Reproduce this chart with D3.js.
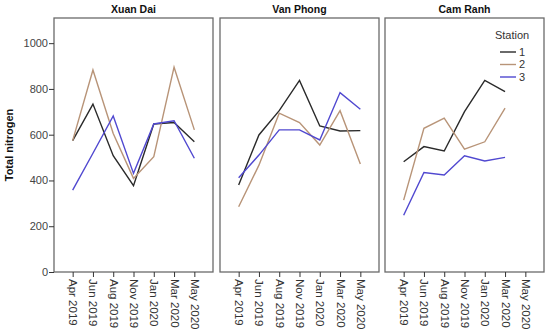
<!DOCTYPE html>
<html>
<head>
<meta charset="utf-8">
<script src="https://cdn.jsdelivr.net/npm/d3@7"></script>
<style>
  body { margin: 0; background: #fff; }
  text { font-family: "Liberation Sans", Arial, sans-serif; }
</style>
</head>
<body>
<svg id="chart" width="550" height="331"></svg>
<script>
// Kategorier og data
const months = ["Apr 2019", "Jun 2019", "Aug 2019", "Nov 2019", "Jan 2020", "Mar 2020", "May 2020"];
const sites = ["Xuan Dai", "Van Phong", "Cam Ranh"];
const stations = ["1", "2", "3"];
const yTicks = [0, 200, 400, 600, 800, 1000];

// værdier pr. station (én række pr. site)
const station1 = [
  [574, 734, 508, 377, 647, 653, 569],
  [380, 599, 705, 837, 638, 616, 618],
  [482, 548, 529, 701, 837, 788, null]
];
const station2 = [
  [574, 883, 605, 409, 504, 895, 621],
  [285, 467, 694, 653, 555, 705, 472],
  [314, 628, 672, 537, 569, 716, null]
];
const station3 = [
  [358, 519, 682, 431, 647, 661, 497],
  [412, 511, 621, 621, 577, 784, 711],
  [248, 435, 424, 508, 485, 501, null]
];
const seriesData = [station1, station2, station3];
const colors = ["#2a2a2a", "#b89478", "#5048d0"];

const svg = d3.select("#chart");

// Panel-placeringer
const panelX = [54, 220, 385];
const panelW = 159;
const plotTop = 18, plotBottom = 272;

const y = d3.scaleLinear().domain([0, 1110]).range([plotBottom, plotTop]);

sites.forEach((site, i) => {
  const x = d3.scalePoint().domain(months).range([0, panelW]).padding(0.92);
  const g = svg.append("g").attr("transform", `translate(${panelX[i]},0)`);

  // ramme
  g.append("rect")
    .attr("x", 0).attr("y", plotTop)
    .attr("width", panelW).attr("height", plotBottom - plotTop)
    .attr("fill", "none").attr("stroke", "#6a6a6a").attr("stroke-width", 1.3);

  // titel
  g.append("text")
    .attr("x", panelW / 2).attr("y", 13)
    .attr("text-anchor", "middle")
    .attr("font-size", 10.5).attr("font-weight", "bold")
    .attr("fill", "#111")
    .text(site);

  // x-akse
  const xAxis = g.append("g")
    .attr("transform", `translate(0,${plotBottom})`)
    .call(d3.axisBottom(x).tickSize(5).tickPadding(3));
  xAxis.select(".domain").remove();
  xAxis.selectAll("line").attr("stroke", "#333");
  xAxis.selectAll("text")
    .attr("font-size", 11.5).attr("fill", "#333")
    .attr("transform", "rotate(90)")
    .attr("text-anchor", "start")
    .attr("x", 7).attr("y", 0).attr("dy", "0.35em");

  // y-akse kun på første panel
  if (i === 0) {
    const yAxis = g.append("g")
      .call(d3.axisLeft(y).tickValues(yTicks).tickFormat(d3.format("d")).tickSize(5).tickPadding(1));
    yAxis.select(".domain").remove();
    yAxis.selectAll("line").attr("stroke", "#333");
    yAxis.selectAll("text").attr("font-size", 11).attr("fill", "#444");
  }

  // linjer
  const line = d3.line()
    .defined(d => d.v != null)
    .x(d => x(d.m))
    .y(d => y(d.v));

  seriesData.forEach((s, k) => {
    const pts = months.map((m, j) => ({ m: m, v: s[i][j] }));
    g.append("path")
      .datum(pts)
      .attr("d", line)
      .attr("fill", "none")
      .attr("stroke", colors[k])
      .attr("stroke-width", 1.4);
  });
});

// y-akse titel
svg.append("text")
  .attr("transform", "translate(13,145) rotate(-90)")
  .attr("text-anchor", "middle")
  .attr("font-size", 11).attr("font-weight", "bold")
  .attr("fill", "#111")
  .text("Total nitrogen");

// legende
const legend = svg.append("g").attr("transform", "translate(500,0)");
legend.append("text")
  .attr("x", 12).attr("y", 39)
  .attr("text-anchor", "middle")
  .attr("font-size", 11).attr("fill", "#333")
  .text("Station");
stations.forEach((s, k) => {
  const yy = 52 + k * 12.5;
  legend.append("line")
    .attr("x1", 0).attr("x2", 16)
    .attr("y1", yy).attr("y2", yy)
    .attr("stroke", colors[k]).attr("stroke-width", 1.4);
  legend.append("text")
    .attr("x", 19).attr("y", yy).attr("dy", "0.35em")
    .attr("font-size", 11).attr("fill", "#333")
    .text(s);
});
</script>
</body>
</html>
